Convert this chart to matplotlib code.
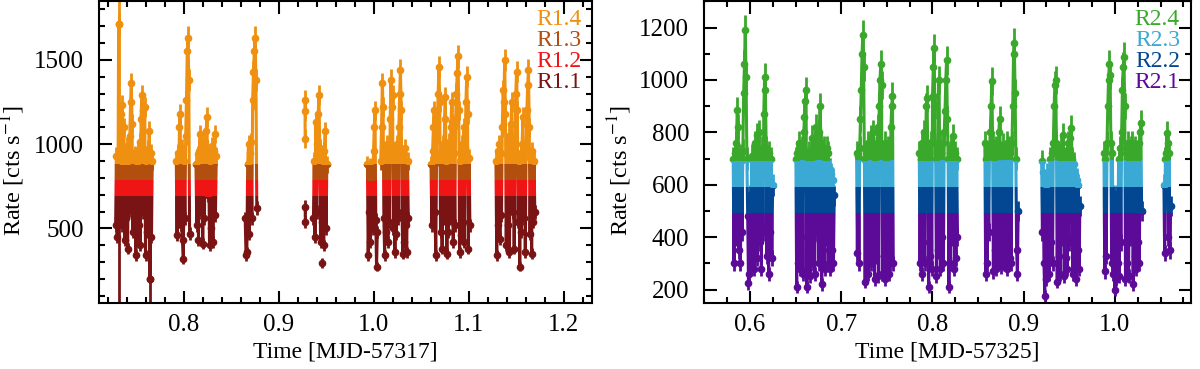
import matplotlib
matplotlib.use('Agg')
import matplotlib.pyplot as plt
from matplotlib.patches import Rectangle
from matplotlib.ticker import MultipleLocator
import numpy as np

plt.rcParams['font.family'] = ['Liberation Serif', 'DejaVu Serif']
plt.rcParams['mathtext.fontset'] = 'stix'

# ---- left light curve (MJD-57317), one list of rates per orbit ----
left_seg_start = [0.7285, 0.7923, 0.8130, 0.8648, 0.9276, 0.9279, 0.9366, 0.9460, 0.9934, 1.0074, 1.0603, 1.1286]
left_seg_end = [0.7670, 0.8063, 0.8344, 0.8770, 0.9279, 0.9281, 0.9507, 0.9460, 1.0038, 1.0364, 1.1012, 1.1695]
left_seg_rates = [
    [520, 930, 450, 560, 1710, 610, 960, 1180, 520, 1230, 880, 1100, 430, 950, 560, 990, 380, 900, 610, 1050,
     1250, 1360, 1120, 480, 920, 560, 940, 340, 870, 450, 960, 520, 1010, 400, 1150, 1290, 1200, 600, 940, 1220,
     340, 900, 480, 970, 560, 1080, 200, 950, 450, 900],
    [900, 460, 950, 600, 1100, 1180, 520, 980, 430, 320, 900, 560, 1050, 1260, 1550, 1630, 1380, 470],
    [880, 520, 940, 430, 960, 1060, 600, 1000, 410, 930, 560, 1010, 1080, 1160, 700, 950, 400, 900, 500, 990,
     420, 960, 1060, 580, 930],
    [560, 340, 360, 880, 1000, 470, 950, 1010, 560, 1260, 1430, 1550, 1630, 1380, 620],
    [1260, 1195, 1033],
    [629, 540],
    [560, 900, 450, 1130, 600, 1000, 1180, 1290, 980, 420, 940, 540, 900, 400, 960, 1075, 500, 880],
    [296],
    [880, 340, 600, 870, 420, 780, 860, 500, 960, 1100, 1200, 550, 274, 480],
    [900, 1100, 1360, 1220, 560, 340, 950, 480, 1000, 420, 960, 540, 1150, 1380, 1220, 1290, 500, 960, 360, 930,
     470, 1000, 560, 1100, 1300, 1440, 1200, 600, 350, 940, 420, 980, 520, 360, 900, 560],
    [880, 520, 960, 1100, 1200, 600, 340, 920, 1130, 1300, 1460, 1250, 480, 950, 380, 1000, 560, 1150, 1280, 900,
     350, 960, 480, 1010, 560, 1100, 1250, 1130, 420, 950, 520, 1150, 1300, 1420, 1520, 1200, 360, 900, 460, 1000,
     540, 1100, 420, 980, 1250, 1400, 1180, 380, 920, 520],
    [900, 340, 960, 520, 1000, 440, 950, 580, 1100, 1320, 1250, 1500, 1180, 400, 940, 520, 1050, 360, 960, 1120,
     1250, 600, 940, 380, 1000, 1300, 1430, 1200, 540, 900, 274, 950, 480, 1000, 1160, 560, 920, 360, 980, 1200,
     1350, 1440, 1100, 470, 930, 350, 960, 540, 900, 600],
]
# bins with very large uncertainties
left_wide_t = [0.7317, 0.7650]
left_wide_rate = [1710, 200]
left_wide_err = [1700, 200]
left_bounds = [695, 790, 885]
left_names = ['R1.1', 'R1.2', 'R1.3', 'R1.4']
left_colors = ['#7a1414', '#ef1515', '#b24e0e', '#ef9010']

# ---- right light curve (MJD-57325) ----
right_seg_start = [0.5817, 0.6504, 0.7169, 0.7856, 0.8575, 0.9197, 0.9880, 1.0537]
right_seg_end = [0.6249, 0.6924, 0.7571, 0.8275, 0.8940, 0.9616, 1.0293, 1.0610]
right_seg_rates = [
    [700, 300, 720, 400, 760, 885, 820, 350, 710, 300, 690, 420, 730, 950, 1060, 1190, 1010, 700, 480, 225,
     260, 560, 300, 710, 350, 700, 280, 760, 420, 790, 320, 720, 800, 380, 700, 280, 740, 420, 870, 1010,
     960, 740, 330, 700, 260, 720, 420, 700, 320, 600],
    [700, 210, 720, 300, 760, 280, 730, 400, 740, 260, 800, 860, 920, 960, 210, 700, 320, 720, 250, 700,
     380, 780, 300, 720, 260, 760, 820, 420, 740, 300, 800, 900, 760, 220, 710, 350, 740, 280, 700, 400,
     740, 720, 300, 660, 280, 640, 350, 620, 300, 560],
    [720, 340, 710, 300, 740, 850, 960, 1100, 1170, 1050, 700, 230, 720, 300, 760, 260, 720, 400, 780, 300,
     740, 800, 720, 240, 700, 330, 760, 820, 250, 900, 1000, 1060, 980, 260, 720, 330, 760, 240, 700, 350,
     740, 260, 720, 300, 820, 900, 940, 300],
    [720, 300, 700, 260, 760, 380, 800, 300, 720, 900, 930, 700, 210, 730, 330, 760, 280, 940, 1050, 1120,
     900, 700, 250, 720, 350, 1000, 760, 280, 720, 400, 760, 300, 800, 880, 1000, 1075, 850, 700, 210, 720,
     300, 740, 400, 785, 700, 280, 720, 320, 700, 400],
    [760, 260, 700, 300, 720, 420, 740, 800, 900, 995, 760, 270, 700, 350, 740, 280, 720, 300, 800, 850,
     720, 290, 710, 340, 750, 300, 720, 400, 760, 280, 730, 740, 320, 720, 300, 760, 900, 1100, 1140, 950,
     700, 350, 260, 500],
    [690, 420, 650, 300, 175, 600, 240, 640, 330, 620, 260, 700, 380, 720, 300, 760, 900, 980, 1000, 760,
     230, 720, 330, 700, 260, 740, 400, 790, 720, 250, 700, 320, 720, 280, 760, 380, 720, 780, 816, 700,
     260, 680, 330, 640, 240, 620, 350, 600, 280, 520],
    [720, 270, 700, 330, 760, 900, 1000, 1060, 1018, 760, 300, 720, 260, 560, 200, 540, 240, 560, 300, 700,
     250, 740, 380, 800, 960, 1050, 1088, 900, 240, 720, 300, 760, 250, 700, 400, 740, 760, 720, 220, 720,
     330, 740, 280, 700, 380, 760, 300, 800, 837, 500],
    [600, 340, 700, 720, 797, 760, 400, 720, 350, 520],
]
right_wide_t = []
right_wide_rate = []
right_wide_err = []
right_bounds = [494, 593, 695]
right_names = ['R2.1', 'R2.2', 'R2.3', 'R2.4']
right_colors = ['#5c0a98', '#034692', '#3aa9d4', '#3aa82a']

bin_time = 0.35  # s, for Poisson error bars

fig = plt.figure(figsize=(12, 3.69), dpi=100)


def draw_panel(ax, starts, ends, rates, wide_t, wide_r, wide_e, bounds, colors, names, xlim, ylim):
    ax.set_xlim(*xlim)
    ax.set_ylim(*ylim)
    edges = [ylim[0]] + bounds + [ylim[1]]
    for k, col in enumerate(colors):
        band = Rectangle((xlim[0], edges[k]), xlim[1] - xlim[0], edges[k + 1] - edges[k],
                         transform=ax.transData)
        conts = []
        for t0, t1, r in zip(starts, ends, rates):
            r = np.array(r, dtype=float)
            t = np.linspace(t0, t1, len(r))
            conts.append(ax.errorbar(t, r, yerr=np.sqrt(r / bin_time), fmt='-o', color=col,
                                     ms=4.5, lw=2.2, elinewidth=2.0, capsize=0))
        if len(wide_t):
            conts.append(ax.errorbar(wide_t, wide_r, yerr=wide_e, fmt='o', color=col,
                                     ms=4.5, elinewidth=2.0, capsize=0))
        for c in conts:
            for art in c.get_children():
                art.set_clip_path(band)
    for k in range(len(names)):
        ax.text(0.978, 0.729 + 0.07 * k, names[k], color=colors[k], transform=ax.transAxes,
                ha='right', va='center', fontsize=17)
    ax.set_ylabel(r'Rate [cts s$^{-1}$]', fontsize=17.5)
    ax.yaxis.set_label_coords(-0.145, 0.44)
    ax.tick_params(which='both', direction='in', top=True, right=True, width=1.5, labelsize=18)
    ax.tick_params(which='major', length=9)
    ax.tick_params(which='minor', length=4.5)
    ax.tick_params(axis='x', pad=8)
    ax.tick_params(axis='y', pad=11)
    for sp in ax.spines.values():
        sp.set_linewidth(1.5)


ax1 = fig.add_axes([0.0825, 0.1797, 0.4111, 0.8168])
draw_panel(ax1, left_seg_start, left_seg_end, left_seg_rates, left_wide_t, left_wide_rate, left_wide_err,
           left_bounds, left_colors, left_names, (0.711, 1.23), (60, 1847))
ax1.xaxis.set_major_locator(MultipleLocator(0.1))
ax1.xaxis.set_minor_locator(MultipleLocator(0.02))
ax1.yaxis.set_major_locator(MultipleLocator(500))
ax1.yaxis.set_minor_locator(MultipleLocator(100))
ax1.set_xlabel('Time [MJD-57317]', fontsize=17)

ax2 = fig.add_axes([0.5869, 0.1797, 0.4053, 0.8168])
draw_panel(ax2, right_seg_start, right_seg_end, right_seg_rates, right_wide_t, right_wide_rate, right_wide_err,
           right_bounds, right_colors, right_names, (0.55, 1.083), (150, 1300))
ax2.xaxis.set_major_locator(MultipleLocator(0.1))
ax2.xaxis.set_minor_locator(MultipleLocator(0.025))
ax2.yaxis.set_major_locator(MultipleLocator(200))
ax2.yaxis.set_minor_locator(MultipleLocator(100))
ax2.set_xlabel('Time [MJD-57325]', fontsize=17)

fig.savefig('out.png', dpi=100)
